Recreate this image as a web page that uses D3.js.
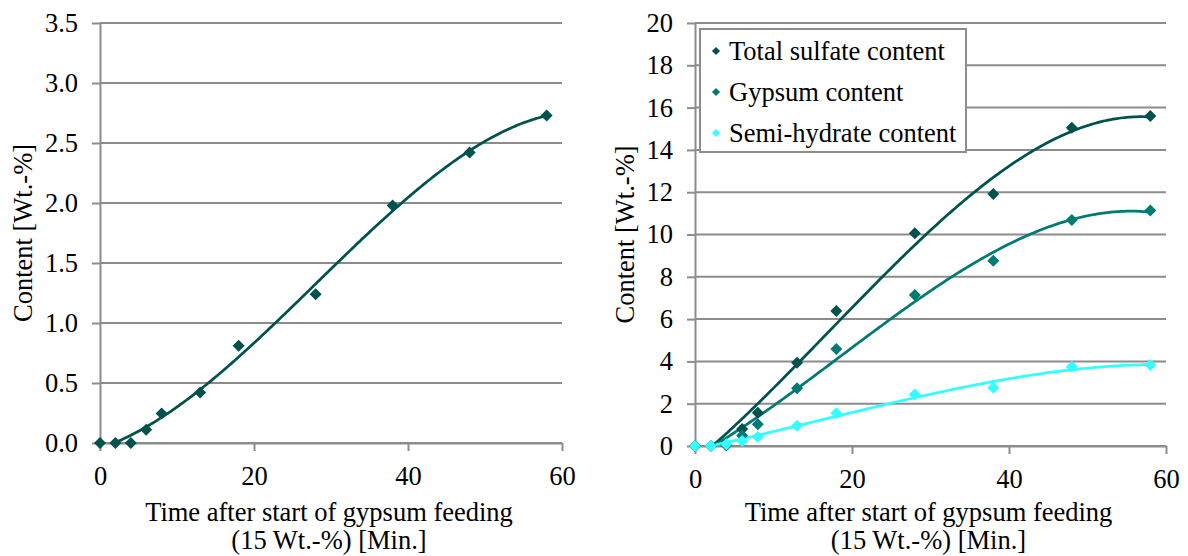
<!DOCTYPE html>
<html>
<head>
<meta charset="utf-8">
<script src="https://cdn.jsdelivr.net/npm/d3@7"></script>
<style>
    body { margin: 0; background: #fff; }
    svg { font-family: "Liberation Serif", "Times New Roman", serif; }
    svg text { font-family: "Liberation Serif", "Times New Roman", serif; }
</style>
</head>
<body>
<svg id="chart" width="1188" height="556"></svg>
<script>
// sampling times after start of gypsum feeding (min)
let times = [0, 2, 4, 6, 8, 13, 18, 28, 38, 48, 58];

// left chart: single content series
let leftContent = [0, 0, 0, 0.11, 0.245, 0.42, 0.81, 1.24, 1.98, 2.42, 2.73];

// right chart series
let totalSulfate = [0, 0, 0.05, 0.8, 1.57, 3.94, 6.38, 10.06, 11.91, 15.05, 15.6];
let gypsumContent = [0, 0, 0.03, 0.5, 1.03, 2.73, 4.59, 7.14, 8.76, 10.69, 11.13];
let semiHydrate = [0, 0, 0.08, 0.24, 0.42, 0.96, 1.55, 2.44, 2.76, 3.75, 3.83];
let seriesNames = ["Total sulfate content", "Gypsum content", "Semi-hydrate content"];
let seriesColors = ["#00524c", "#007a72", "#33ffff"];

// tick labels
let leftYTicks = [0, 0.5, 1, 1.5, 2, 2.5, 3, 3.5];
let rightYTicks = [0, 2, 4, 6, 8, 10, 12, 14, 16, 18, 20];
let xTicks = [0, 20, 40, 60];

let yTitle = "Content [Wt.-%]";
let xTitle = ["Time after start of gypsum feeding", "(15 Wt.-%) [Min.]"];

let gridColor = "#8c8c8c";
let fontSize = 26.5;

let svg = d3.select("#chart");

// least squares polynomial fit (like the excel trendline)
function polyFit(xs, ys, order) {
    let n = order + 1;
    let A = [];
    for (let i = 0; i < n; i++) {
        A[i] = [];
        for (let j = 0; j < n; j++) {
            A[i][j] = d3.sum(xs, function (x) { return Math.pow(x, i + j); });
        }
        A[i][n] = d3.sum(xs, function (x, k) { return ys[k] * Math.pow(x, i); });
    }
    // gaussian elimination
    for (let c = 0; c < n; c++) {
        let p = c;
        for (let r = c + 1; r < n; r++) {
            if (Math.abs(A[r][c]) > Math.abs(A[p][c])) p = r;
        }
        let tmp = A[c]; A[c] = A[p]; A[p] = tmp;
        for (let r = 0; r < n; r++) {
            if (r === c) continue;
            let f = A[r][c] / A[c][c];
            for (let k = c; k <= n; k++) A[r][k] -= f * A[c][k];
        }
    }
    let coef = [];
    for (let i = 0; i < n; i++) coef.push(A[i][n] / A[i][i]);
    return function (x) {
        let s = 0;
        for (let i = 0; i < n; i++) s += coef[i] * Math.pow(x, i);
        return s;
    };
}

function drawPanel(id, frame, yMax, yTicks, yFormat, series, titleX, withLegend) {
    let x = d3.scaleLinear().domain([0, 60]).range([frame.left, frame.right]);
    let y = d3.scaleLinear().domain([0, yMax]).range([frame.bottom, frame.top]);

    let g = svg.append("g").attr("id", id);

    g.append("clipPath").attr("id", id + "-clip")
        .append("rect")
        .attr("x", frame.left).attr("y", frame.top)
        .attr("width", frame.right - frame.left)
        .attr("height", frame.bottom - frame.top);

    // horizontal gridlines
    g.append("g").selectAll("line")
        .data(yTicks)
        .join("line")
        .attr("x1", frame.left).attr("x2", frame.right)
        .attr("y1", function (d) { return y(d); })
        .attr("y2", function (d) { return y(d); })
        .attr("stroke", gridColor)
        .attr("stroke-width", 2);

    // y axis
    let yAxis = g.append("g")
        .attr("transform", "translate(" + frame.left + ",0)")
        .call(d3.axisLeft(y).tickValues(yTicks).tickFormat(yFormat).tickSize(8).tickSizeOuter(0).tickPadding(14));

    // x axis
    let xAxis = g.append("g")
        .attr("transform", "translate(0," + frame.bottom + ")")
        .call(d3.axisBottom(x).tickValues(xTicks).tickSize(8).tickSizeOuter(0).tickPadding(15));

    [yAxis, xAxis].forEach(function (a) {
        // let the serif font from the svg come through
        a.attr("font-family", null).attr("font-size", null);
        a.select(".domain").attr("stroke", gridColor).attr("stroke-width", 2);
        a.selectAll(".tick line").attr("stroke", gridColor).attr("stroke-width", 2);
        a.selectAll(".tick text")
            .attr("fill", "#000")
            .attr("font-size", fontSize);
    });

    // trendlines
    let line = d3.line()
        .x(function (d) { return x(d[0]); })
        .y(function (d) { return y(d[1]); });

    series.forEach(function (s) {
        let fit = polyFit(times, s.values, 3);
        let pts = d3.range(0, 58.01, 0.25).map(function (t) { return [t, fit(t)]; });
        g.append("path")
            .datum(pts)
            .attr("clip-path", "url(#" + id + "-clip)")
            .attr("d", line)
            .attr("fill", "none")
            .attr("stroke", s.color)
            .attr("stroke-width", 2.75);
    });

    // diamond markers
    let diamond = d3.symbol().type(d3.symbolSquare).size(72);
    series.forEach(function (s) {
        g.append("g").selectAll("path")
            .data(s.values)
            .join("path")
            .attr("d", diamond)
            .attr("transform", function (d, i) {
                return "translate(" + x(times[i]) + "," + y(d) + ") rotate(45)";
            })
            .attr("fill", s.color);
    });

    // axis titles
    let cx = (frame.left + frame.right) / 2;
    g.append("text")
        .attr("transform", "translate(" + titleX + "," + (frame.top + frame.bottom) / 2 + ") rotate(-90)")
        .attr("text-anchor", "middle")
        .attr("font-size", fontSize)
        .text(yTitle);
    g.append("text")
        .attr("x", cx - 2).attr("y", 521)
        .attr("text-anchor", "middle")
        .attr("font-size", fontSize)
        .text(xTitle[0]);
    g.append("text")
        .attr("x", cx - 2).attr("y", 549)
        .attr("text-anchor", "middle")
        .attr("font-size", fontSize)
        .text(xTitle[1]);

    if (withLegend) {
        let lg = g.append("g");
        lg.append("rect")
            .attr("x", 700).attr("y", 29)
            .attr("width", 266).attr("height", 123)
            .attr("fill", "#fff")
            .attr("stroke", gridColor)
            .attr("stroke-width", 2);
        let small = d3.symbol().type(d3.symbolSquare).size(34);
        series.forEach(function (s, i) {
            let cy = 51 + i * 41;
            lg.append("path")
                .attr("d", small)
                .attr("transform", "translate(716," + cy + ") rotate(45)")
                .attr("fill", s.color);
            lg.append("text")
                .attr("x", 729).attr("y", cy)
                .attr("dy", "0.35em")
                .attr("font-size", fontSize)
                .text(s.name);
        });
    }
}

drawPanel("left", { left: 100, right: 562, top: 23, bottom: 443 }, 3.5, leftYTicks, d3.format(".1f"),
    [{ values: leftContent, color: seriesColors[0] }], 32, false);

drawPanel("right", { left: 695, right: 1166, top: 23, bottom: 446 }, 20, rightYTicks, d3.format("d"),
    [
        { name: seriesNames[0], values: totalSulfate, color: seriesColors[0] },
        { name: seriesNames[1], values: gypsumContent, color: seriesColors[1] },
        { name: seriesNames[2], values: semiHydrate, color: seriesColors[2] }
    ], 634, true);
</script>
</body>
</html>
